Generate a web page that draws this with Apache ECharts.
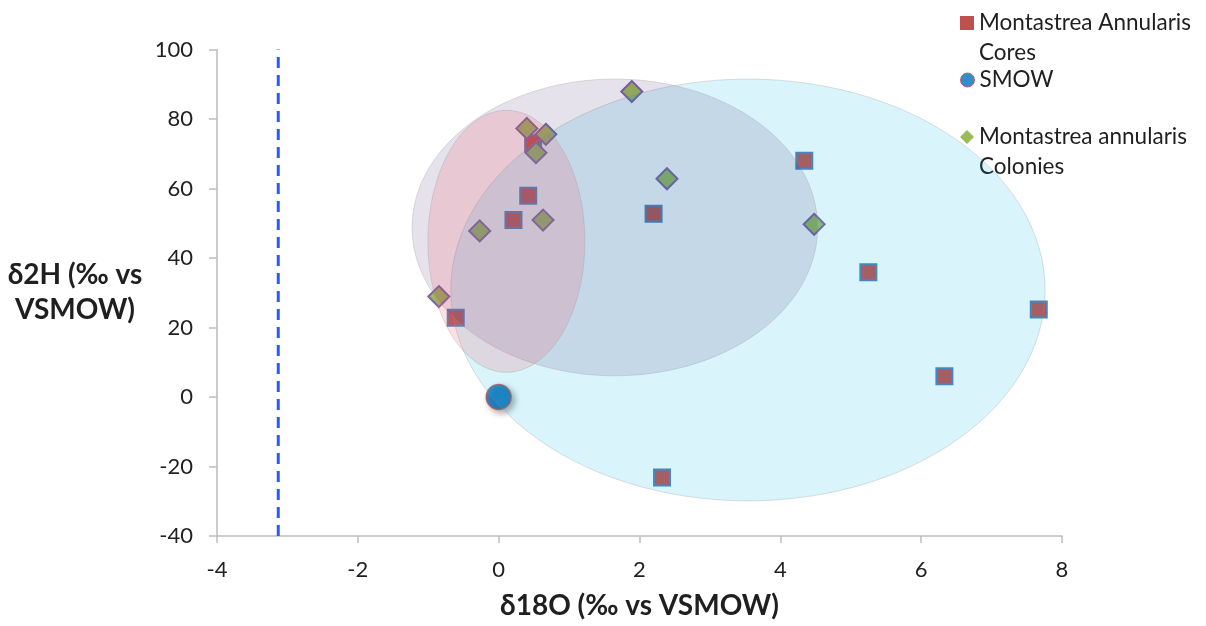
<!DOCTYPE html>
<html>
<head>
<meta charset="utf-8">
<script src="https://cdn.jsdelivr.net/npm/echarts@6/dist/echarts.min.js"></script>
<style>
  html, body { margin: 0; padding: 0; background: #ffffff; }
  #chart { width: 1206px; height: 626px; }
</style>
</head>
<body>
<div id="chart"></div>
<script>
// δ18O / δ2H pairs for each group
const coresPoints = [
  [-0.61, 22.8], [0.21, 50.9], [0.42, 57.9], [0.49, 73.0], [2.20, 52.7],
  [4.34, 68.0], [5.25, 35.9], [7.67, 25.2], [6.33, 6.0], [2.32, -23.2]
];
const smowPoints = [[0, 0]];
const colonyPoints = [
  [-0.85, 28.9], [-0.27, 47.8], [0.40, 77.3], [0.67, 75.6], [0.53, 70.3],
  [0.63, 50.9], [1.89, 87.9], [2.39, 62.8], [4.48, 49.7]
];

// Envelope ellipses: centre x, centre y, half-width (‰ δ18O), half-height (‰ δ2H)
const ellipses = [
  [3.54, 30.8, 4.22, 60.7],
  [1.65, 48.8, 2.88, 42.7],
  [0.11, 44.8, 1.115, 37.7]
];

// Vertical reference line position and its vertical span
const refLineX = -3.13;
const refLineSpan = [-40, 100];

// Axis ranges and tick steps
const xRange = [-4, 8], xStep = 2;
const yRange = [-40, 100], yStep = 20;

const xTitle = 'δ18O (‰ vs VSMOW)';
const yTitle = 'δ2H (‰ vs\nVSMOW)';
const seriesNames = ['Montastrea Annularis Cores', 'SMOW', 'Montastrea annularis Colonies'];
const legendLabels = ['Montastrea Annularis\nCores', 'SMOW', 'Montastrea annularis\nColonies'];

const ellipseFills = [
  'rgba(0,180,230,0.15)',
  'rgba(60,30,110,0.13)',
  'rgba(240,100,116,0.20)'
];

const FONT = 'Lato, "Open Sans", sans-serif';
const TEXT = '#1f1f1f';
const AXIS = '#bdbdbd';

const chart = echarts.init(document.getElementById('chart'), null, { renderer: 'canvas' });

// Each legend entry is its own block so the marker sits on the first text line;
// a leading blank line keeps the marker level with the label's first line.
function legendBlock(idx, top, twoLine) {
  return {
    data: [seriesNames[idx]],
    orient: 'vertical',
    left: 960,
    top: top,
    padding: 0,
    itemWidth: 14,
    itemHeight: 14,
    itemGap: 0,
    selectedMode: false,
    formatter: () => (twoLine ? '\u00a0\n' : '') + legendLabels[idx],
    itemStyle: idx === 1 ? { borderWidth: 1, borderColor: '#c0504d' } : { borderWidth: 0 },
    textStyle: {
      fontFamily: FONT,
      fontSize: 22.5,
      color: TEXT,
      lineHeight: 30
    }
  };
}

const option = {
  animation: false,
  backgroundColor: '#ffffff',
  textStyle: { fontFamily: FONT },
  grid: { left: 217, right: 144, top: 49.5, bottom: 90, containLabel: false },
  legend: [
    legendBlock(0, -22, true),
    legendBlock(1, 65, false),
    legendBlock(2, 92, true)
  ],
  xAxis: {
    type: 'value',
    min: xRange[0], max: xRange[1], interval: xStep,
    name: xTitle,
    nameLocation: 'middle',
    nameGap: 70,
    nameTextStyle: {
      fontFamily: FONT, fontSize: 28, fontWeight: 'bold', color: TEXT,
      align: 'center', verticalAlign: 'middle'
    },
    axisLine: { onZero: false, lineStyle: { color: AXIS, width: 1.5 } },
    axisTick: { show: true, inside: false, length: 7, lineStyle: { color: AXIS, width: 1.5 } },
    axisLabel: { fontFamily: FONT, fontSize: 22, color: TEXT, margin: 23 },
    splitLine: { show: false }
  },
  yAxis: {
    type: 'value',
    min: yRange[0], max: yRange[1], interval: yStep,
    name: yTitle,
    nameLocation: 'middle',
    nameRotate: 0,
    nameGap: 142,
    nameTextStyle: {
      fontFamily: FONT, fontSize: 28, fontWeight: 'bold', color: TEXT,
      align: 'center', verticalAlign: 'middle', lineHeight: 35,
      padding: [0, 0, 10, 0]
    },
    axisLine: { onZero: false, lineStyle: { color: AXIS, width: 1.5 } },
    axisTick: { show: true, inside: false, length: 8, lineStyle: { color: AXIS, width: 1.5 } },
    axisLabel: { fontFamily: FONT, fontSize: 22, color: TEXT, margin: 24 },
    splitLine: { show: false }
  },
  series: [
    {
      name: 'reference',
      type: 'line',
      data: [[refLineX, refLineSpan[0]], [refLineX, refLineSpan[1]]],
      symbol: 'none',
      silent: true,
      z: 1,
      lineStyle: { color: '#2a5cf5', width: 3, type: [11, 7] }
    },
    {
      name: seriesNames[0],
      type: 'scatter',
      data: coresPoints,
      symbol: 'rect',
      symbolSize: 16,
      z: 2,
      itemStyle: { color: '#c0504d', borderColor: '#4f81bd', borderWidth: 2, opacity: 1 }
    },
    {
      name: seriesNames[1],
      type: 'scatter',
      data: smowPoints,
      symbol: 'circle',
      symbolSize: 25,
      z: 2,
      itemStyle: {
        color: '#0070c0', borderColor: '#c0504d', borderWidth: 1.5,
        shadowBlur: 6, shadowOffsetX: 3, shadowOffsetY: 3, shadowColor: 'rgba(0,0,0,0.4)'
      }
    },
    {
      name: seriesNames[2],
      type: 'scatter',
      data: colonyPoints,
      symbol: 'diamond',
      symbolSize: 21,
      z: 3,
      itemStyle: { color: '#9bbb59', borderColor: '#8064a2', borderWidth: 2, opacity: 1 }
    },
    {
      name: 'envelopes',
      type: 'custom',
      data: ellipses,
      silent: true,
      z: 5,
      encode: { x: 0, y: 1 },
      renderItem: function (params, api) {
        const cx = api.value(0), cy = api.value(1), rx = api.value(2), ry = api.value(3);
        const pts = [];
        const n = 120;
        for (let i = 0; i < n; i++) {
          const t = (i / n) * Math.PI * 2;
          pts.push(api.coord([cx + rx * Math.cos(t), cy + ry * Math.sin(t)]));
        }
        return {
          type: 'polygon',
          shape: { points: pts },
          style: {
            fill: ellipseFills[params.dataIndex],
            stroke: 'rgba(150,150,160,0.3)',
            lineWidth: 1
          }
        };
      }
    }
  ]
};

chart.setOption(option);
</script>
</body>
</html>
